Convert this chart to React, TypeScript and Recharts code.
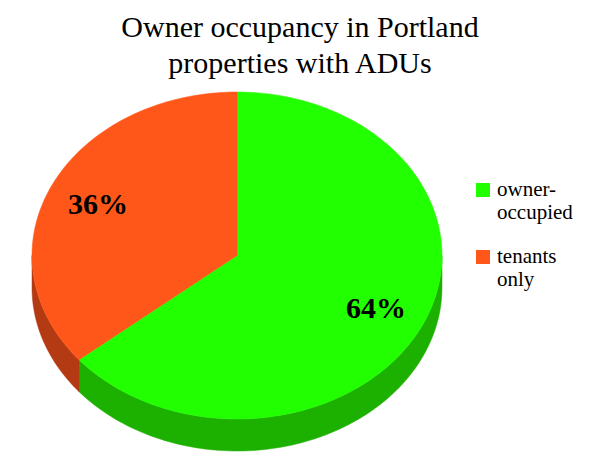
import React from 'react';
import { PieChart, Pie, Cell, Legend } from 'recharts';

const categories = ['owner-occupied', 'tenants only'];
const shares = [64, 36];
const legendLines = [['owner-', 'occupied'], ['tenants', 'only']];
const topColors = ['#22ff00', '#ff5719'];
const sideColors = ['#1cb000', '#b33a12'];
const titleLines = ['Owner occupancy in Portland', 'properties with ADUs'];

const data = categories.map((name, i) => ({ name, value: shares[i] }));

const SQUASH = 0.7976; // vertical squash of the tilted pie
const DEPTH = 32;
const RAD = Math.PI / 180;
const SERIF = "'Liberation Serif', 'DejaVu Serif', serif";

// points along the ellipse rim between two angles
const rim = (cx: number, cy: number, r: number, a1: number, a2: number, dy = 0) => {
  const n = Math.max(2, Math.ceil(Math.abs(a2 - a1) / 1.5));
  const pts: string[] = [];
  for (let i = 0; i <= n; i++) {
    const a = (a1 + ((a2 - a1) * i) / n) * RAD;
    pts.push(`${(cx + r * Math.cos(a)).toFixed(2)},${(cy - r * SQUASH * Math.sin(a) + dy).toFixed(2)}`);
  }
  return pts;
};

const renderWall = (props: any) => {
  const { cx, cy, outerRadius, startAngle, endAngle, index } = props;
  const lo = Math.min(startAngle, endAngle);
  const hi = Math.max(startAngle, endAngle);
  const paths: React.ReactNode[] = [];
  // front half of the rim is where sin < 0, i.e. (-180, 0) + 360k
  for (let k = -2; k <= 1; k++) {
    const a = Math.max(lo, -180 + 360 * k);
    const b = Math.min(hi, 360 * k);
    if (b - a <= 0) continue;
    const top = rim(cx, cy, outerRadius, a, b);
    const bottom = rim(cx, cy, outerRadius, b, a, DEPTH);
    paths.push(
      <path key={k} d={`M${top.join('L')}L${bottom.join('L')}Z`} fill={sideColors[index]} stroke={sideColors[index]} strokeWidth={0.5} />
    );
  }
  return <g key={`wall-${index}`}>{paths}</g>;
};

const renderTop = (props: any) => {
  const { cx, cy, outerRadius, startAngle, endAngle, midAngle, index, percent } = props;
  const pts = rim(cx, cy, outerRadius, startAngle, endAngle);
  const lx = cx + outerRadius * 0.75 * Math.cos(midAngle * RAD);
  const ly = cy - outerRadius * SQUASH * 0.75 * Math.sin(midAngle * RAD);
  return (
    <g key={`top-${index}`}>
      <path d={`M${cx},${cy}L${pts.join('L')}Z`} fill={topColors[index]} stroke={topColors[index]} strokeWidth={0.5} />
      <text x={lx} y={ly} textAnchor="middle" dominantBaseline="central" style={{ fontFamily: SERIF }} fontSize={30} fontWeight="bold" fill="#000">
        {`${Math.round(percent * 100)}%`}
      </text>
    </g>
  );
};

const LegendBox = () => (
  <div style={{ fontFamily: SERIF, fontSize: 21, lineHeight: '23px', color: '#000' }}>
    {categories.map((c, i) => (
      <div key={c} style={{ position: 'relative', height: i === 0 ? 67 : 50 }}>
        <div style={{ position: 'absolute', left: 0, top: 5, width: 14, height: 14, background: topColors[i] }} />
        <div style={{ position: 'absolute', left: 21, top: 0 }}>
          {legendLines[i].map((l) => (
            <div key={l}>{l}</div>
          ))}
        </div>
      </div>
    ))}
  </div>
);

export default function App() {
  return (
    <div style={{ position: 'fixed', left: 0, top: 0, width: 600, height: 463, background: '#fff', fontFamily: SERIF }}>
      <PieChart width={600} height={463} margin={{ top: 0, right: 0, bottom: 0, left: 0 }} style={{ fontFamily: SERIF }}>
        <Pie
          data={data}
          dataKey="value"
          nameKey="name"
          cx={237}
          cy={255.5}
          outerRadius={205}
          startAngle={90}
          endAngle={-270}
          isAnimationActive={false}
          stroke="none"
          labelLine={false}
          label={renderWall}
          legendType="none"
        >
          {data.map((d, i) => (
            <Cell key={d.name} fill={sideColors[i]} fillOpacity={0} />
          ))}
        </Pie>
        <Pie
          data={data}
          dataKey="value"
          nameKey="name"
          cx={237}
          cy={255.5}
          outerRadius={205}
          startAngle={90}
          endAngle={-270}
          isAnimationActive={false}
          stroke="none"
          labelLine={false}
          label={renderTop}
        >
          {data.map((d, i) => (
            <Cell key={d.name} fill={topColors[i]} fillOpacity={0} />
          ))}
        </Pie>
        <Legend
          content={() => <LegendBox />}
          wrapperStyle={{ position: 'absolute', left: 476, top: 178, width: 124, bottom: 'auto' }}
        />
      </PieChart>
      <svg width={600} height={90} style={{ position: 'absolute', left: 0, top: 0, pointerEvents: 'none' }}>
        {titleLines.map((t, i) => (
          <text key={t} x={300} y={37 + i * 36} textAnchor="middle" style={{ fontFamily: SERIF }} fontSize={30} fill="#000">
            {t}
          </text>
        ))}
      </svg>
    </div>
  );
}
